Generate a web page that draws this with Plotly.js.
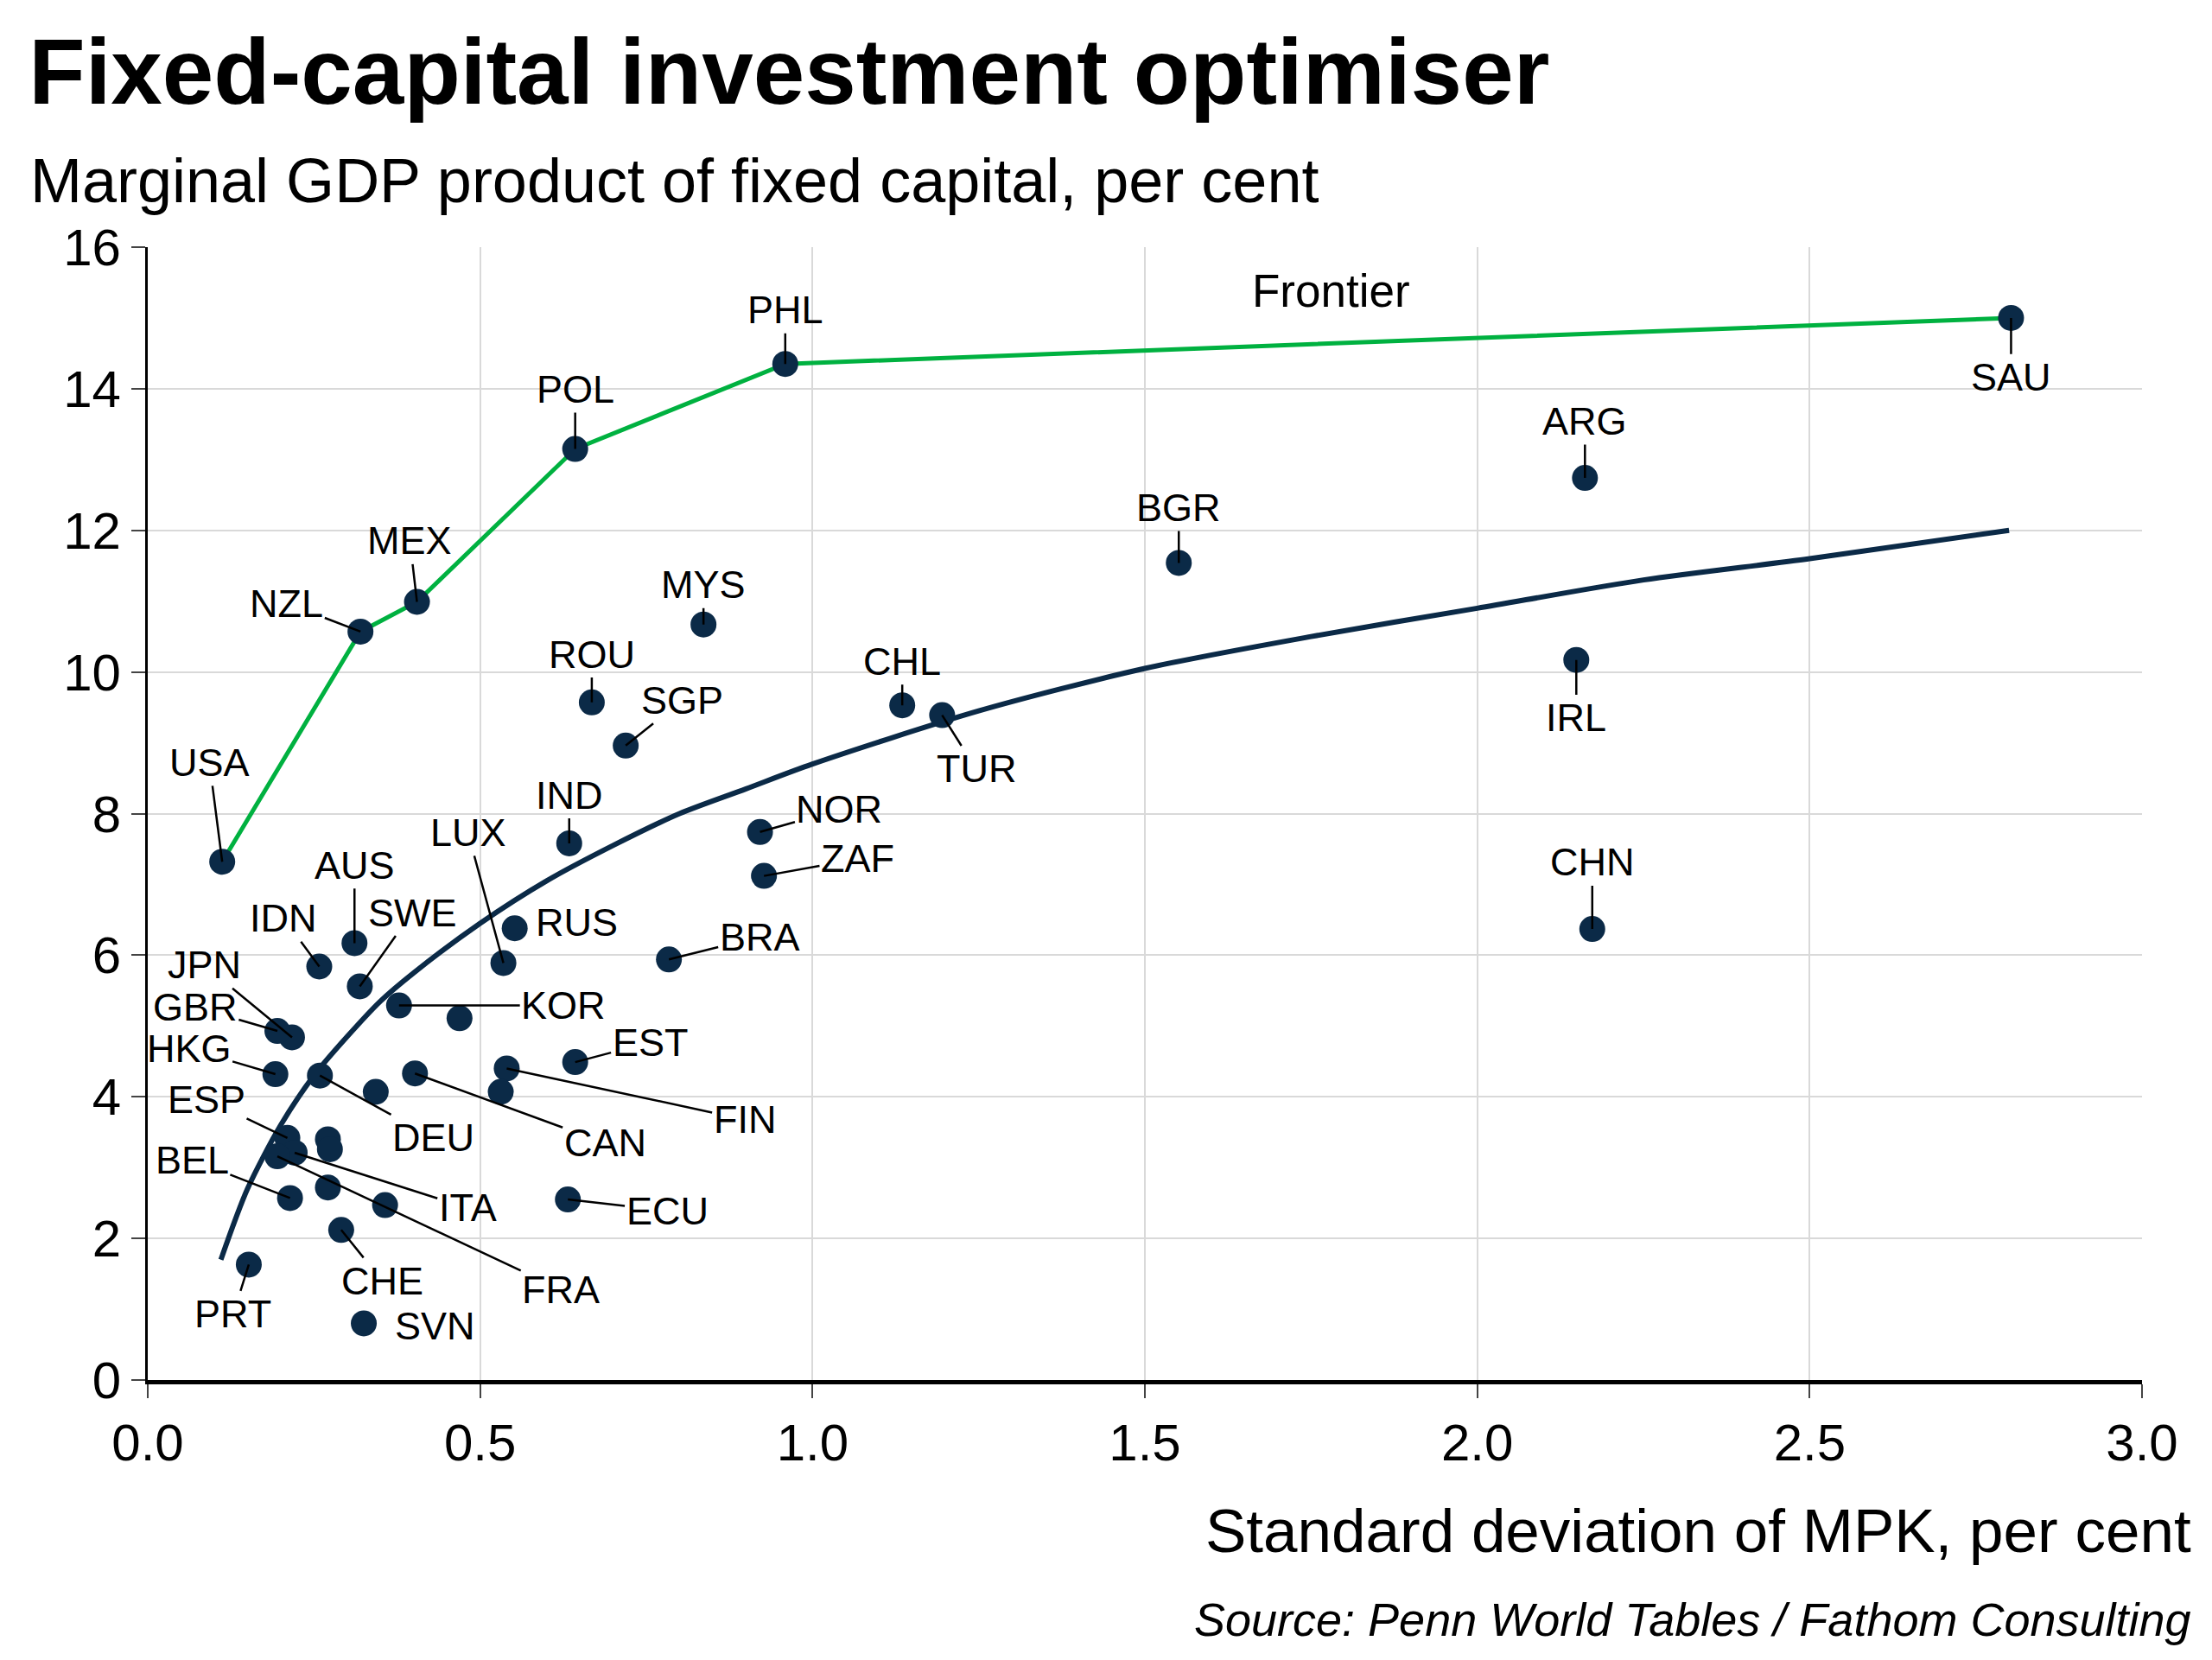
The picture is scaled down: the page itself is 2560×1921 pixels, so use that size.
<!DOCTYPE html>
<html>
<head>
<meta charset="utf-8">
<script src="https://cdn.plot.ly/plotly-3.0.1.min.js"></script>
<style>body{margin:0;background:#fff}#chart{width:2560px;height:1921px}</style>
</head>
<body>
<div id="chart"></div>
<script>
// countries
const codes = ["USA","NZL","MEX","POL","PHL","SAU","ARG","BGR","MYS","ROU","SGP","CHL","TUR","IRL","IND","NOR","ZAF","CHN","LUX","RUS","BRA","AUS","SWE","IDN","KOR","JPN","GBR","HKG","DEU","CAN","FIN","EST","ESP","BEL","ITA","FRA","CHE","PRT","SVN","ECU"];
const sdMpk = [0.112,0.320,0.405,0.643,0.959,2.803,2.162,1.551,0.836,0.668,0.719,1.135,1.195,2.149,0.634,0.921,0.927,2.173,0.535,0.552,0.784,0.311,0.319,0.258,0.378,0.217,0.195,0.192,0.259,0.402,0.540,0.643,0.210,0.214,0.221,0.195,0.291,0.152,0.325,0.632];
const mpk = [7.32,10.57,10.99,13.15,14.35,15.0,12.74,11.54,10.67,9.57,8.96,9.53,9.39,10.17,7.58,7.74,7.12,6.37,5.89,6.38,5.94,6.17,5.56,5.84,5.29,4.84,4.93,4.32,4.30,4.33,4.40,4.49,3.42,2.57,3.21,3.16,2.12,1.63,0.80,2.55];
// label offsets from the dot, in pixels
const labelDx = [-9,-52,-5,0,0,0,0,0,0,0,40,0,24,0,0,56,66,0,-25,44,64,0,37,-25,116,-62,-58,-61,80,134,168,53,-57,-69,122,200,29,-11,50,70];
const labelDy = [-70,-20,-43,-42,-38,42,-40,-39,-28,-34,-32,-31,38,41,-34,-16,-12,-47,-92,-4,-16,-55,-52,-34,0,-51,-17,-18,44,49,36,-14,-27,-27,39,94,36,35,2,8];
const noLeader = ["RUS","SVN"];

// unlabelled dots
const otherX = [0.469,0.343,0.531,0.271,0.274,0.271,0.357];
const otherY = [5.11,4.07,4.07,3.40,3.26,2.72,2.47];

// frontier
const frontierX = [0.112,0.320,0.405,0.643,0.959,2.803];
const frontierY = [7.32,10.57,10.99,13.15,14.35,15.0];

// fitted curve as drawn
const curveX = [0.11,0.15,0.2,0.25,0.3,0.35,0.4,0.5,0.6,0.7,0.8,0.9,1.0,1.25,1.5,1.75,2.0,2.25,2.5,2.8];
const curveY = [1.7,2.7,3.6,4.3,4.85,5.35,5.75,6.45,7.05,7.55,8.0,8.35,8.7,9.45,10.05,10.5,10.9,11.3,11.6,12.0];

const navy = "#0b2a47";
const s = 1.641;

const traces = [
  {x: curveX, y: curveY, mode: "lines", line: {color: navy, width: 6, shape: "spline", smoothing: 0.8}, hoverinfo: "skip"},
  {x: frontierX, y: frontierY, mode: "lines", line: {color: "#00b140", width: 5}, hoverinfo: "skip"},
  {x: sdMpk.concat(otherX), y: mpk.concat(otherY), mode: "markers", marker: {color: navy, size: 30}, text: codes}
];

const annotations = codes.map((c, i) => ({
  x: sdMpk[i], y: mpk[i], text: c, showarrow: true,
  ax: labelDx[i] * s, ay: labelDy[i] * s,
  arrowhead: 0, arrowwidth: 2.5, standoff: 0,
  arrowcolor: noLeader.includes(c) ? "rgba(0,0,0,0)" : "#000",
  font: {size: 45, color: "#000"}
}));
annotations.push({x: 1.78, y: 15.38, text: "Frontier", showarrow: false, font: {size: 53, color: "#000"}});
annotations.push({xref: "paper", yref: "paper", x: 1.0256, y: -0.133, xanchor: "right", yanchor: "middle",
  text: "Standard deviation of MPK, per cent", showarrow: false, font: {size: 71, color: "#000"}});
annotations.push({xref: "paper", yref: "paper", x: 1.0256, y: -0.2115, xanchor: "right", yanchor: "middle",
  text: "<i>Source: Penn World Tables / Fathom Consulting</i>", showarrow: false, font: {size: 54, color: "#000"}});
annotations.push({xref: "paper", yref: "paper", x: -0.060, y: 1.059, xanchor: "left", yanchor: "middle",
  text: "Marginal GDP product of fixed capital, per cent", showarrow: false, font: {size: 72, color: "#000"}});

const layout = {
  width: 2560, height: 1921,
  paper_bgcolor: "#fff", plot_bgcolor: "#fff",
  font: {family: "Liberation Sans, Arial, sans-serif", color: "#000"},
  showlegend: false,
  margin: {l: 171, r: 81, t: 286, b: 324},
  title: {text: "<b>Fixed-capital investment optimiser</b>", x: 0.013, xanchor: "left", y: 0.957, yanchor: "middle",
    font: {size: 107, color: "#000"}},
  xaxis: {range: [0, 3], dtick: 0.5, tickformat: ".1f", showgrid: true, gridcolor: "#d9d9d9", gridwidth: 2,
    zeroline: false, showline: true, linecolor: "#000", linewidth: 5, ticks: "outside", ticklen: 16, tickwidth: 2,
    tickfont: {size: 60}},
  yaxis: {range: [0, 16], dtick: 2, showgrid: true, gridcolor: "#d9d9d9", gridwidth: 2,
    zeroline: false, showline: true, linecolor: "#000", linewidth: 3, ticks: "outside", ticklen: 16, tickwidth: 2,
    tickfont: {size: 60}},
  annotations: annotations
};

Plotly.newPlot("chart", traces, layout, {staticPlot: true});
</script>
</body>
</html>
